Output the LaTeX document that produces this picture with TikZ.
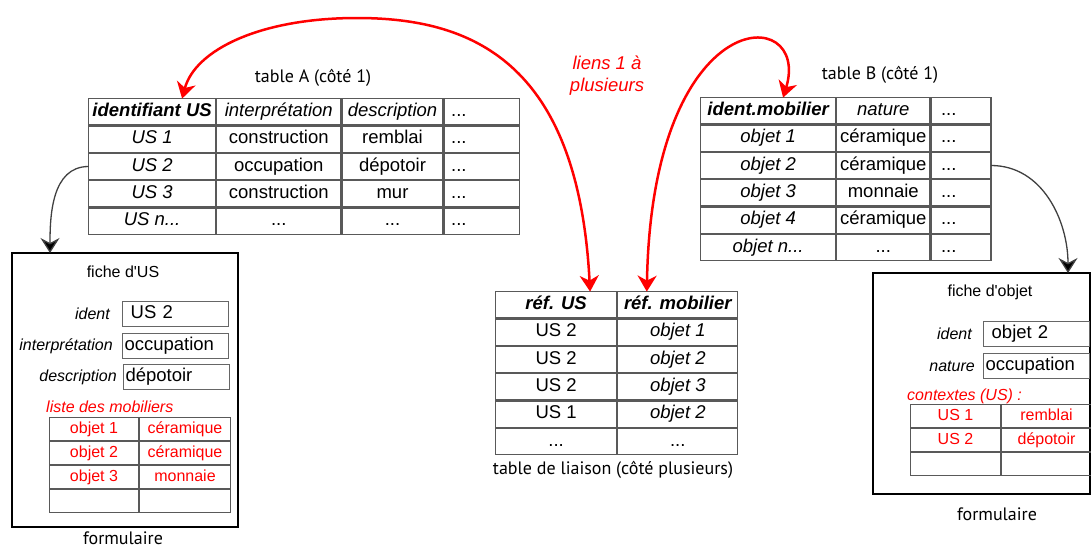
\documentclass[tikz,border=0pt]{standalone}
\usepackage{fontspec}
\setmainfont{Liberation Sans}
\newfontfamily\myriad{PT Sans}
\newfontfamily\plainsans{Liberation Sans}
\usetikzlibrary{arrows.meta, positioning, matrix, calc}

\newcommand\tblfont{\fontsize{18.5}{22}\selectfont}
\newcommand\frmfont{\fontsize{16}{18}\selectfont}
\newcommand\capfont{\myriad\fontsize{18}{20}\selectfont}

\tikzset{
  cell/.style={draw=black!65, line width=1.2pt, inner xsep=3pt, inner ysep=0pt,
               outer sep=0pt, text height=13pt, text depth=4pt, font=\tblfont},
  it/.style={font=\tblfont\itshape},
  hd/.style={font=\tblfont\bfseries\itshape},
  tabl/.style={matrix of nodes, nodes in empty cells, inner sep=0pt, outer sep=0pt,
               column sep=0pt, row sep=0pt, anchor=north west,
               nodes={cell, minimum height=26.2pt}},
  tabr/.style={matrix of nodes, nodes in empty cells, inner sep=0pt, outer sep=0pt,
               column sep=0pt, row sep=0pt, anchor=north west,
               nodes={cell, line width=1pt, font=\frmfont, text=red,
                      minimum height=23pt, text height=11.5pt, text depth=3.5pt}},
  formbox/.style={draw, line width=2.5pt, inner sep=0pt, outer sep=0pt, anchor=north west},
  field/.style={draw=black!60, line width=1pt, minimum width=106pt, minimum height=25pt,
                text width=102pt, inner xsep=2pt, inner ysep=0pt, align=left,
                text height=13pt, text depth=4pt, font=\tblfont, anchor=north west},
  flbl/.style={font=\frmfont\itshape, inner sep=0pt},
  rlbl/.style={font=\frmfont\itshape, text=red, inner sep=0pt},
  lbl/.style={font=\frmfont, inner sep=0pt},
  captxt/.style={font=\capfont, inner sep=0pt},
  blk/.style={draw=black!75, line width=1.3pt,
              -{Stealth[length=15pt,width=19pt,inset=5pt,fill=black]}},
  redarc/.style={draw=red, line width=2.5pt,
                 {Stealth[length=16pt,width=19pt,inset=5pt]}-{Stealth[length=16pt,width=19pt,inset=5pt]}}
}

\begin{document}
\begin{tikzpicture}[x=1pt,y=-1pt]
  \useasboundingbox (0,0) rectangle (1091,549);

  % table A
  \node[captxt] (capA) at (313,78) {table A (côté 1)};
  \matrix (tabA) [tabl,
    column 1/.style={nodes={minimum width=127pt}},
    column 2/.style={nodes={minimum width=124pt}},
    column 3/.style={nodes={minimum width=101pt}},
    column 4/.style={nodes={minimum width=75pt, text width=61pt, inner xsep=7pt, align=left}}]
    at (88,98) {
    |[hd]| identifiant US & |[it]| interprétation & |[it]| description & ... \\
    |[it]| US 1 & construction & remblai & ... \\
    |[it]| US 2 & occupation & dépotoir & ... \\
    |[it]| US 3 & construction & mur & ... \\
    |[it]| US n... & ... & ... & ... \\
  };

  % table B
  \node[captxt] (capB) at (880,75) {table B (côté 1)};
  \matrix (tabB) [tabl,
    column 1/.style={nodes={minimum width=135pt}},
    column 2/.style={nodes={minimum width=93pt}},
    column 3/.style={nodes={minimum width=60pt, text width=40pt, inner xsep=10pt, align=left}}]
    at (700,97) {
    |[hd]| ident.mobilier & |[it]| nature & ... \\
    |[it]| objet 1 & céramique & ... \\
    |[it]| objet 2 & céramique & ... \\
    |[it]| objet 3 & monnaie & ... \\
    |[it]| objet 4 & céramique & ... \\
    |[it]| objet n... & ... & ... \\
  };

  % table de liaison
  \matrix (liai) [tabl,
    column 1/.style={nodes={minimum width=121pt}},
    column 2/.style={nodes={minimum width=120pt}}]
    at (495,291) {
    |[hd]| réf. US & |[hd]| réf. mobilier \\
    US 2 & |[it]| objet 1 \\
    US 2 & |[it]| objet 2 \\
    US 2 & |[it]| objet 3 \\
    US 1 & |[it]| objet 2 \\
    ... & ... \\
  };
  \node[captxt] (capL) at (613,470) {table de liaison (côté plusieurs)};

  \node[font=\tblfont\itshape, text=red, align=center, inner sep=0pt] (liens)
    at (607,76) {liens 1 à\\plusieurs};

  % formulaire US
  \node[formbox, minimum width=226pt, minimum height=274pt] (ficheUS) at (12,253) {};
  \node[lbl] (titUS) at (123,272) {fiche d{\plainsans '}US};
  \node[field] (fIdUS) at (122,301) {\ US 2};
  \node[field] (fInterp) at (122,333) {occupation};
  \node[field] (fDesc) at (123,364) {dépotoir};
  \node[flbl, left=12pt of fIdUS] (lIdUS) {ident};
  \node[flbl, left=9pt of fInterp] (lInterp) {interprétation};
  \node[flbl, left=6pt of fDesc] (lDesc) {description};
  \node[rlbl, anchor=west] (lstUS) at (46,407) {liste des mobiliers};
  \matrix (mobUS) [tabr,
    column 1/.style={nodes={minimum width=89pt}},
    column 2/.style={nodes={minimum width=91pt}}]
    at (49,417) {
    objet 1 & céramique \\
    objet 2 & céramique \\
    objet 3 & monnaie \\
    & \\
  };
  \node[captxt] (frmUS) at (123,538) {formulaire};

  % formulaire objet
  \node[formbox, minimum width=217pt, minimum height=221pt] (ficheObj) at (873,273) {};
  \node[lbl] (titObj) at (990,292) {fiche d{\plainsans '}objet};
  \node[field] (fIdObj) at (983,321) {\ objet 2};
  \node[field] (fNat) at (983,353) {occupation};
  \node[flbl, left=11pt of fIdObj] (lIdObj) {ident};
  \node[flbl, left=8pt of fNat] (lNat) {nature};
  \node[rlbl, anchor=west] (lstObj) at (907,396) {contextes (US) :};
  \matrix (ctxObj) [tabr,
    column 1/.style={nodes={minimum width=90pt}},
    column 2/.style={nodes={minimum width=90pt}}]
    at (910,404) {
    US 1 & remblai \\
    US 2 & dépotoir \\
    & \\
  };
  \node[captxt] (frmObj) at (997,514) {formulaire};

  % liens
  \draw[blk] (tabA-3-1.west) to[out=180,in=90] ($(ficheUS.north west)+(38,0)$);
  \draw[blk] (tabB-3-3.east) to[out=0,in=90] ($(ficheObj.north west)+(195,0)$);
  \draw[redarc] ($(tabA-1-1.north)+(30,0)$) .. controls (195,50) and (260,18) .. (357,18)
    .. controls (470,18) and (578,60) .. ($(liai-1-1.north)+(34,0)$);
  \draw[redarc] ($(liai-1-2.north)+(-31,0)$) .. controls (652,0) and (812,3)
    .. ($(tabB-1-1.north)+(15,0)$);
\end{tikzpicture}
\end{document}
